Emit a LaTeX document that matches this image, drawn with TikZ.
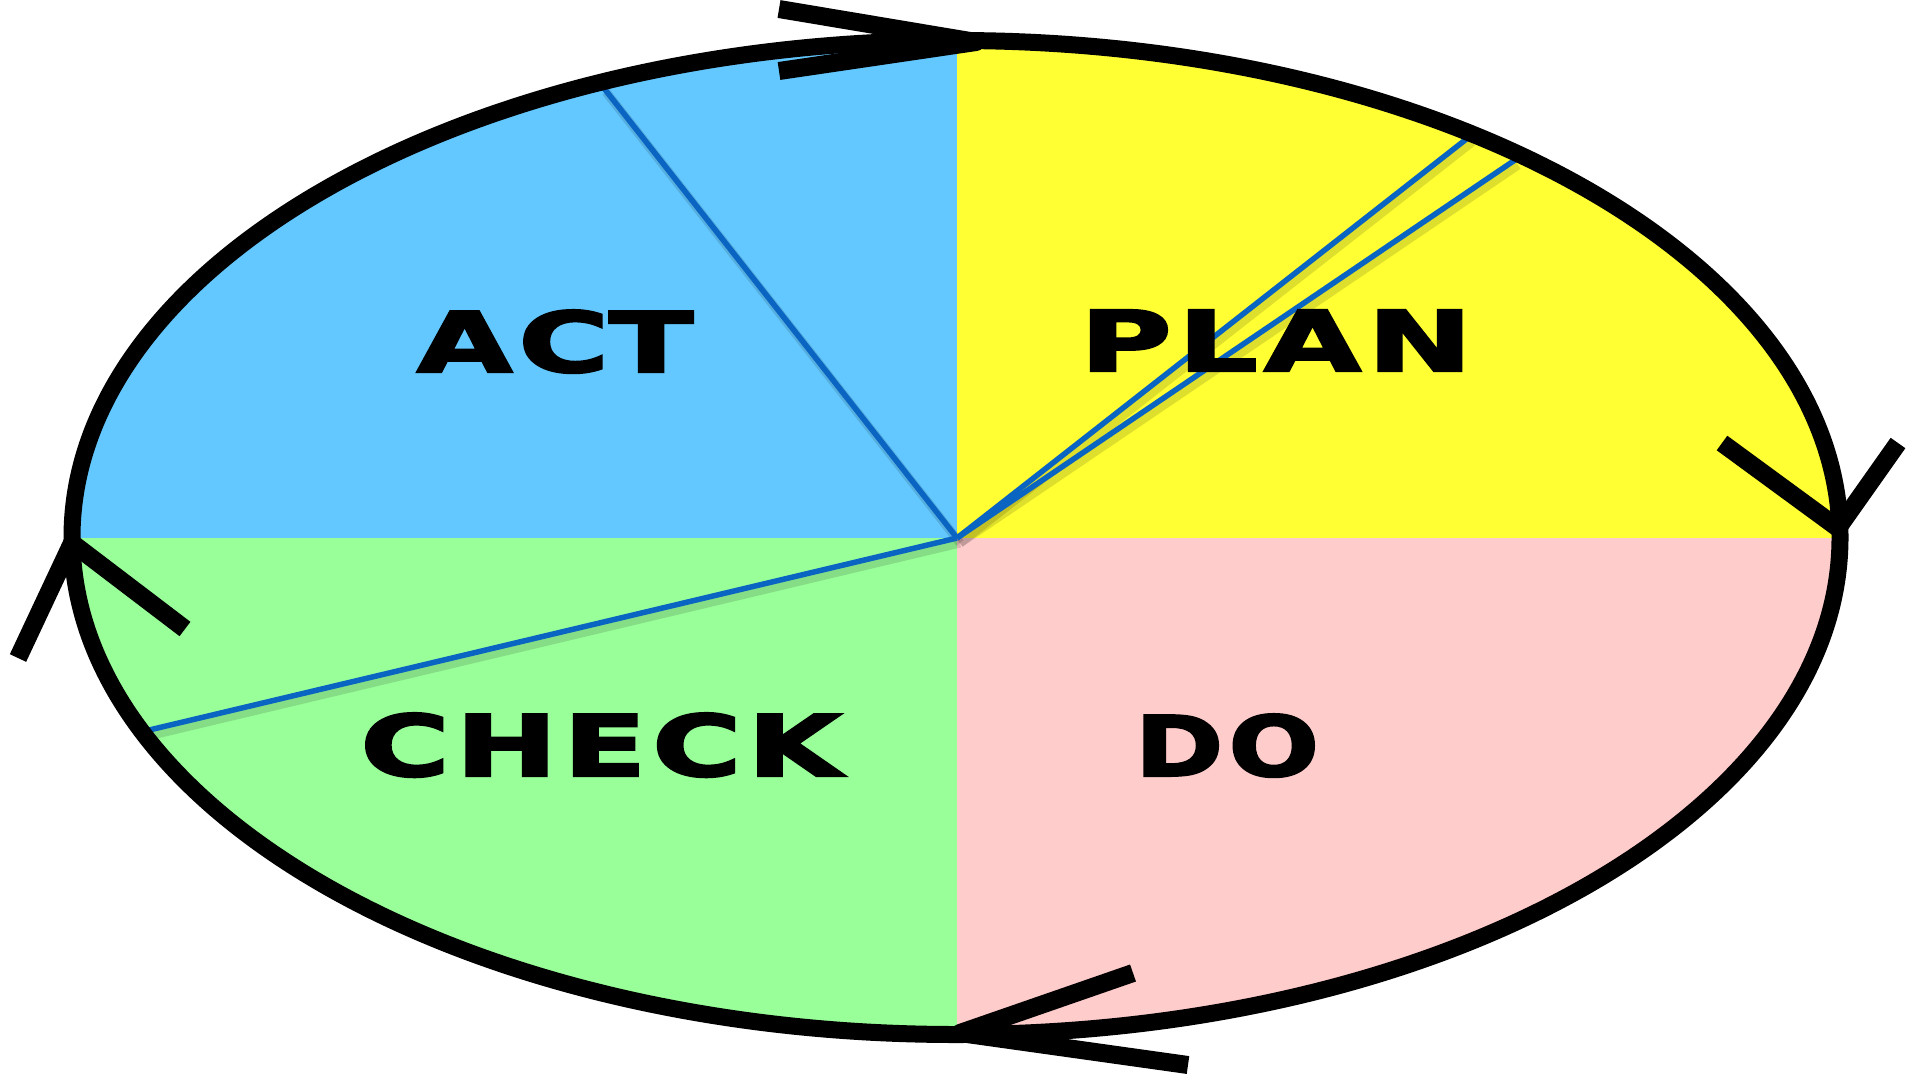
\documentclass[tikz,border=0pt]{standalone}
\usepackage{fontspec}
\newfontfamily\pdcafont{DejaVu Sans Bold}[FakeBold=2.5]
\usetikzlibrary{calc}
\definecolor{actblue}{HTML}{63C8FF}
\definecolor{planyellow}{HTML}{FFFF33}
\definecolor{dopink}{HTML}{FFCCCC}
\definecolor{checkgreen}{HTML}{99FF99}
\definecolor{rayblue}{HTML}{0A64C2}
\tikzset{
  outline/.style={line width=17pt, black},
  chevron/.style={line width=18pt, black, line join=round},
  ray/.style={line width=5.5pt, rayblue},
  rayshadow/.style={line width=9pt, black, opacity=0.13},
  label/.style={inner sep=0pt, anchor=base, font=\pdcafont}
}
\newcommand{\pdcatext}[3]{\resizebox{#1pt}{#2pt}{#3}}
\begin{document}
\begin{tikzpicture}[x=1pt,y=-1pt]
\useasboundingbox (0,0) rectangle (1913,1080);
\coordinate (c) at (957,538);
\coordinate (ec) at (956,537.5);
% quadrant fills
\begin{scope}
\clip (ec) ellipse [x radius=884pt, y radius=497pt];
\fill[actblue] (0,0) rectangle (c);
\fill[planyellow] (1913,0) rectangle (c);
\fill[checkgreen] (0,1080) rectangle (c);
\fill[dopink] (1913,1080) rectangle (c);
\end{scope}
% rays
\coordinate (r1) at (603,87);
\coordinate (r2) at (1469,137);
\coordinate (r3) at (1515,160);
\coordinate (r4) at (145,731);
\foreach \r in {r1,r2,r3,r4}{
  \draw[rayshadow] ($(c)+(3,5)$) -- ($(\r)+(3,5)$);
}
\foreach \r in {r1,r2,r3,r4}{
  \draw[ray] (c) -- (\r);
}
% labels
\node[label] (act) at (555,372) {\pdcatext{276}{62}{A\kern0.05em C\kern0.0em T}};
\node[label] (plan) at (1276,371) {\pdcatext{392}{61}{P\kern0.05em L\kern0.05em A\kern0.05em N}};
\node[label] (check) at (601,776) {\pdcatext{481}{63}{C\kern0.05em H\kern0.05em E\kern0.05em C\kern0.05em K}};
\node[label] (do) at (1227,776) {\pdcatext{184}{62}{D\kern0.05em O}};
% outline
\draw[outline] (ec) ellipse [x radius=884pt, y radius=497pt];
% arrowheads
\coordinate (t1) at (779,9);
\coordinate (t0) at (976,42);
\coordinate (t2) at (779,71);
\draw[chevron] (t1) -- (t0) -- (t2);
\coordinate (ra1) at (1722,443);
\coordinate (ra0) at (1838,528);
\coordinate (ra2) at (1898,443);
\draw[chevron] (ra1) -- (ra0) -- (ra2);
\coordinate (b1) at (1133,973);
\coordinate (b0) at (960,1033);
\coordinate (b2) at (1188,1065);
\draw[chevron] (b1) -- (b0) -- (b2);
\coordinate (l1) at (18,658);
\coordinate (l0) at (72,543);
\coordinate (l2) at (185,629);
\draw[chevron] (l1) -- (l0) -- (l2);
\end{tikzpicture}
\end{document}
